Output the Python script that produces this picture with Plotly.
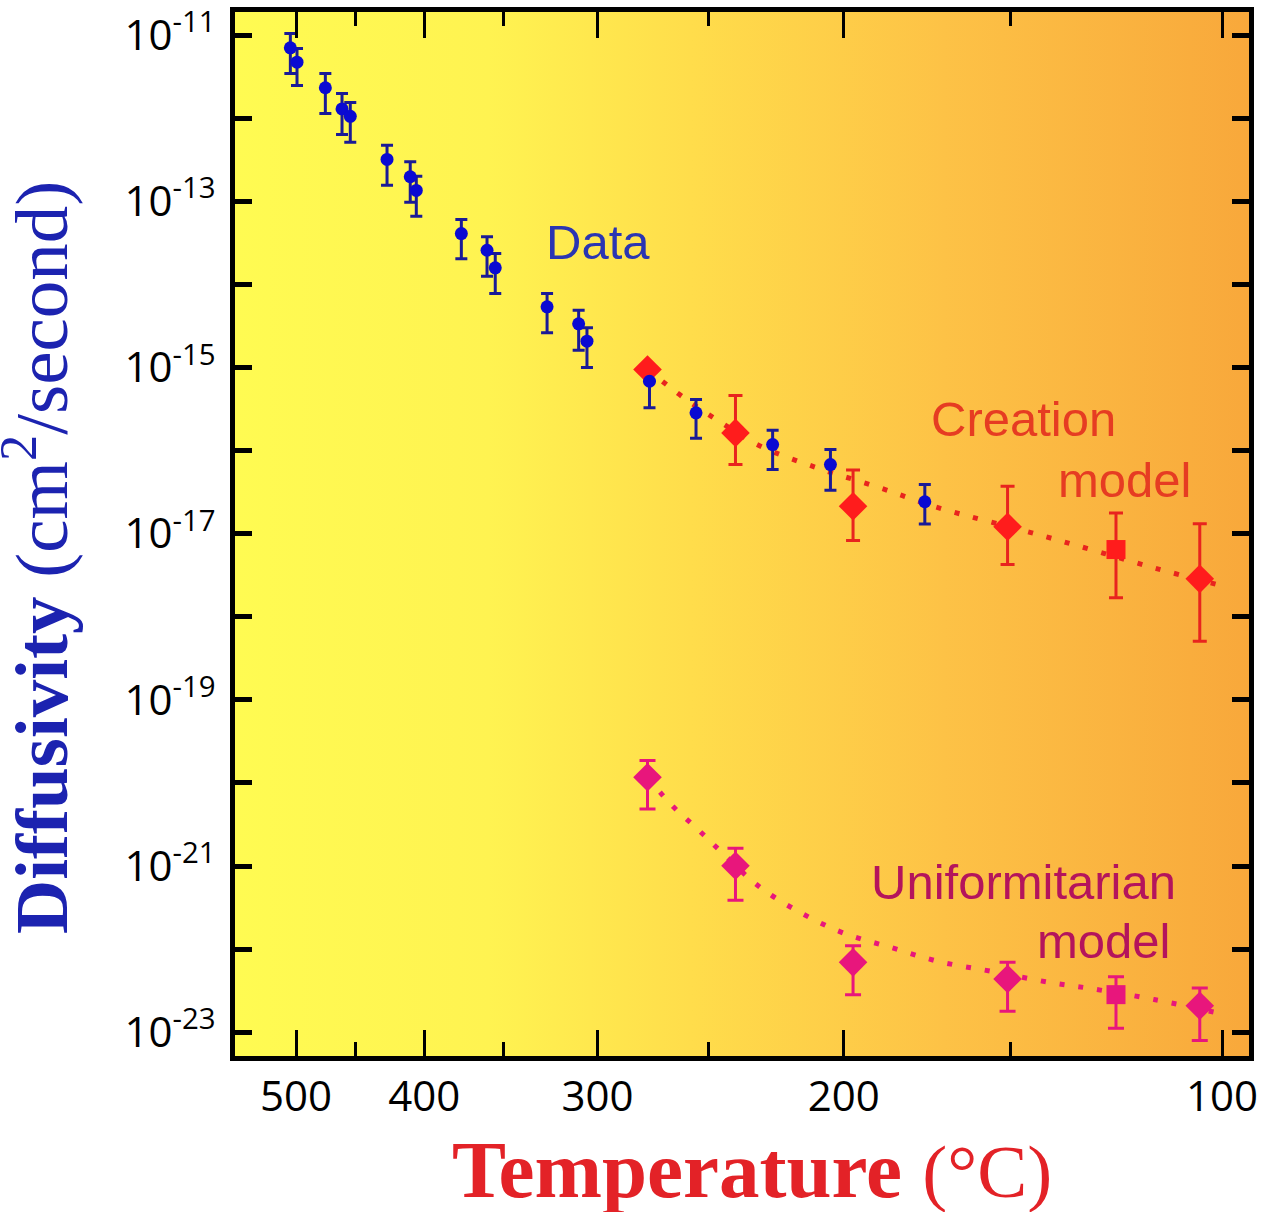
import plotly.graph_objects as go

# ---------------- data ----------------
# Measured diffusivity data (blue circles)
data_temp_c = [505.1, 499.1, 474.6, 460.9, 454.3, 426.3, 409.7, 405.5, 375.8, 360.0,
               355.1, 325.9, 309.4, 305.2, 275.5, 255.3, 225.1, 204.5, 174.3]
data_D = [7.01e-12, 4.71e-12, 2.32e-12, 1.29e-12, 1.05e-12, 3.18e-13, 1.97e-13, 1.35e-13,
          4.08e-14, 2.57e-14, 1.58e-14, 5.36e-15, 3.35e-15, 2.07e-15, 6.82e-16, 2.84e-16,
          1.18e-16, 6.78e-17, 2.42e-17]
data_D_hi = [1.04e-11, 6.89e-12, 3.44e-12, 1.98e-12, 1.54e-12, 4.72e-13, 2.98e-13, 2.00e-13,
             6.03e-14, 3.73e-14, 2.35e-14, 7.74e-15, 4.88e-15, 3.00e-15, 6.82e-16, 4.11e-16,
             1.75e-16, 1.03e-16, 3.90e-17]
data_D_lo = [3.44e-12, 2.47e-12, 1.14e-12, 6.35e-13, 5.13e-13, 1.56e-13, 9.72e-14, 6.59e-14,
             2.03e-14, 1.25e-14, 7.74e-15, 2.61e-15, 1.61e-15, 1.00e-15, 3.27e-16, 1.41e-16,
             5.90e-17, 3.33e-17, 1.31e-17]

# Model temperatures (shared by both models)
model_temp_c = [276.4, 239.3, 196.9, 150.8, 123.5, 104.7]
model_symbols = ["diamond", "diamond", "diamond", "diamond", "square", "diamond"]
model_sizes = [22, 22, 22, 22, 19, 22]

# Creation model (red)
creation_D = [9.44e-16, 1.63e-16, 2.14e-17, 1.21e-17, 6.44e-18, 2.86e-18]
creation_D_hi = [9.44e-16, 4.58e-16, 5.85e-17, 3.72e-17, 1.77e-17, 1.32e-17]
creation_D_lo = [9.44e-16, 6.78e-17, 8.26e-18, 4.25e-18, 1.69e-18, 5.07e-19]
creation_curve_temp_c = [276.4, 260.0, 244.3, 230.2, 209.5, 189.4, 170.4, 144.6, 129.5, 115.0, 99.4]
creation_curve_D = [9.44e-16, 4.23e-16, 2.11e-16, 1.15e-16, 6.25e-17, 3.69e-17, 2.06e-17,
                    1.03e-17, 6.44e-18, 3.91e-18, 2.31e-18]

# Uniformitarian model (magenta)
uniform_D = [1.17e-20, 1.01e-21, 6.95e-23, 4.39e-23, 2.84e-23, 2.09e-23]
uniform_D_hi = [1.87e-20, 1.64e-21, 1.10e-22, 6.95e-23, 4.65e-23, 3.42e-23]
uniform_D_lo = [4.88e-21, 3.87e-22, 2.84e-23, 1.79e-23, 1.12e-23, 8.00e-24]
uniform_curve_temp_c = [276.4, 265.1, 254.9, 244.7, 230.2, 214.4, 199.6, 184.7, 170.1,
                        154.8, 139.4, 129.5, 114.7, 99.2]
uniform_curve_D = [1.16e-20, 5.21e-21, 2.83e-21, 1.46e-21, 5.68e-22, 2.69e-22, 1.54e-22,
                   1.05e-22, 7.10e-23, 5.38e-23, 3.96e-23, 3.36e-23, 2.48e-23, 1.63e-23]

# Axis ticks
x_major_ticks_c = [500, 400, 300, 200, 100]
x_minor_ticks_c = [450, 350, 250, 150]
y_label_exponents = [-11, -13, -15, -17, -19, -21, -23]
y_unlabeled_exponents = [-12, -14, -16, -18, -20, -22]


# Arrhenius-type axis: position is 1000 / T(K)
def inv_k(tc):
    return 1000.0 / (tc + 273.15)


def inv_list(lst):
    return [inv_k(t) for t in lst]


def err_plus(v, hi):
    return [h - a for a, h in zip(v, hi)]


def err_minus(v, lo):
    return [a - l for a, l in zip(v, lo)]


X_RANGE = [1.20207, 2.72026]
Y_RANGE = [-23.2849, -10.7233]

BLUE = "#0a0ad2"
BLUE_BAR = "#1a1a96"
RED = "#ff1c1c"
RED_LINE = "#e8241e"
PINK = "#e8167c"

fig = go.Figure()

# gradient background
fig.add_trace(go.Scatter(
    x=[X_RANGE[0] - 0.1, X_RANGE[1] + 0.1, X_RANGE[1] + 0.1, X_RANGE[0] - 0.1],
    y=[10 ** (Y_RANGE[0] - 1), 10 ** (Y_RANGE[0] - 1), 10 ** (Y_RANGE[1] + 1), 10 ** (Y_RANGE[1] + 1)],
    mode="lines", line=dict(width=0), fill="toself",
    fillgradient=dict(type="horizontal", start=X_RANGE[0], stop=X_RANGE[1],
                      colorscale=[[0.0, "#fffb52"], [0.25, "#fff351"], [0.45, "#ffdd4b"],
                                  [0.7, "#fdc246"], [1.0, "#f8a83b"]]),
    hoverinfo="skip", showlegend=False))

# model curves (dotted)
fig.add_trace(go.Scatter(
    x=inv_list(creation_curve_temp_c), y=creation_curve_D, mode="lines",
    line=dict(color=RED_LINE, width=5, dash="5px,14px", shape="spline"),
    showlegend=False, hoverinfo="skip"))
fig.add_trace(go.Scatter(
    x=inv_list(uniform_curve_temp_c), y=uniform_curve_D, mode="lines",
    line=dict(color=PINK, width=5, dash="5px,14px", shape="spline"),
    showlegend=False, hoverinfo="skip"))

# creation model
fig.add_trace(go.Scatter(
    x=inv_list(model_temp_c), y=creation_D, mode="markers",
    marker=dict(symbol=model_symbols, size=model_sizes, color=RED, opacity=1,
                line=dict(width=0)),
    error_y=dict(type="data", symmetric=False, array=err_plus(creation_D, creation_D_hi),
                 arrayminus=err_minus(creation_D, creation_D_lo), color=RED_LINE, thickness=3, width=7),
    showlegend=False))

# uniformitarian model
fig.add_trace(go.Scatter(
    x=inv_list(model_temp_c), y=uniform_D, mode="markers",
    marker=dict(symbol=model_symbols, size=model_sizes, color=PINK, opacity=1,
                line=dict(width=0)),
    error_y=dict(type="data", symmetric=False, array=err_plus(uniform_D, uniform_D_hi),
                 arrayminus=err_minus(uniform_D, uniform_D_lo), color=PINK, thickness=3, width=8),
    showlegend=False))

# measured data (drawn on top)
fig.add_trace(go.Scatter(
    x=inv_list(data_temp_c), y=data_D, mode="markers",
    marker=dict(symbol="circle", size=13, color=BLUE, opacity=1, line=dict(width=0)),
    error_y=dict(type="data", symmetric=False, array=err_plus(data_D, data_D_hi),
                 arrayminus=err_minus(data_D, data_D_lo), color=BLUE_BAR, thickness=3, width=6),
    showlegend=False))

fig.update_layout(
    width=1274, height=1212,
    margin=dict(l=235, r=25, t=12, b=156, autoexpand=False),
    paper_bgcolor="white", plot_bgcolor="white",
    showlegend=False,
    xaxis=dict(
        range=X_RANGE, showgrid=False, zeroline=False, automargin=False,
        showline=True, linecolor="black", linewidth=5, mirror="ticks",
        ticks="inside", ticklen=26, tickwidth=3, tickcolor="black",
        tickmode="array", tickvals=inv_list(x_major_ticks_c),
        ticktext=[str(t) for t in x_major_ticks_c],
        tickfont=dict(family="Open Sans", size=42, color="black"),
        ticklabelstandoff=0,
        minor=dict(tickmode="array", tickvals=inv_list(x_minor_ticks_c), ticks="inside",
                   ticklen=14, tickwidth=3, tickcolor="black", showgrid=False),
    ),
    yaxis=dict(
        type="log", range=Y_RANGE, showgrid=False, zeroline=False, automargin=False,
        showline=True, linecolor="black", linewidth=5, mirror="ticks",
        ticks="inside", ticklen=17, tickwidth=5, tickcolor="black",
        tickmode="array", tickvals=[10.0 ** e for e in y_label_exponents],
        ticktext=["10<sup>%d</sup>" % e for e in y_label_exponents],
        tickfont=dict(family="Open Sans", size=42, color="black"),
        ticklabelstandoff=6,
        minor=dict(tickmode="array", tickvals=[10.0 ** e for e in y_unlabeled_exponents],
                   ticks="inside", ticklen=17, tickwidth=5, tickcolor="black", showgrid=False),
    ),
    annotations=[
        dict(text="Data", xref="paper", yref="paper", x=0.358, y=0.7795,
             xanchor="center", yanchor="middle", showarrow=False,
             font=dict(family="Liberation Sans", size=49, color="#2a35b2")),
        dict(text="Creation", xref="paper", yref="paper", x=0.7781, y=0.6100,
             xanchor="center", yanchor="middle", showarrow=False,
             font=dict(family="Liberation Sans", size=49, color="#e63c22")),
        dict(text="model", xref="paper", yref="paper", x=0.8777, y=0.5515,
             xanchor="center", yanchor="middle", showarrow=False,
             font=dict(family="Liberation Sans", size=49, color="#e63c22")),
        dict(text="Uniformitarian", xref="paper", yref="paper", x=0.7781, y=0.1665,
             xanchor="center", yanchor="middle", showarrow=False,
             font=dict(family="Liberation Sans", size=49, color="#b4145c")),
        dict(text="model", xref="paper", yref="paper", x=0.857, y=0.1105,
             xanchor="center", yanchor="middle", showarrow=False,
             font=dict(family="Liberation Sans", size=49, color="#b4145c")),
        dict(text="<b>Diffusivity</b> (cm<sup>2</sup>/second)", xref="paper", yref="paper",
             x=-0.1953, y=0.478, xanchor="center", yanchor="middle", textangle=-90,
             showarrow=False, font=dict(family="Liberation Serif", size=75, color="#1c23b0")),
        dict(text="<b>Temperature</b> <span style='font-size:75px'>(°C)</span>",
             xref="paper", yref="paper",
             x=0.5100, y=-0.1092, xanchor="center", yanchor="middle",
             showarrow=False, font=dict(family="Liberation Serif", size=81, color="#e32227")),
    ],
)

fig.write_html("out.html",
               config={"displayModeBar": False},
               post_script="document.body.style.margin='0';document.body.style.overflow='hidden';")
